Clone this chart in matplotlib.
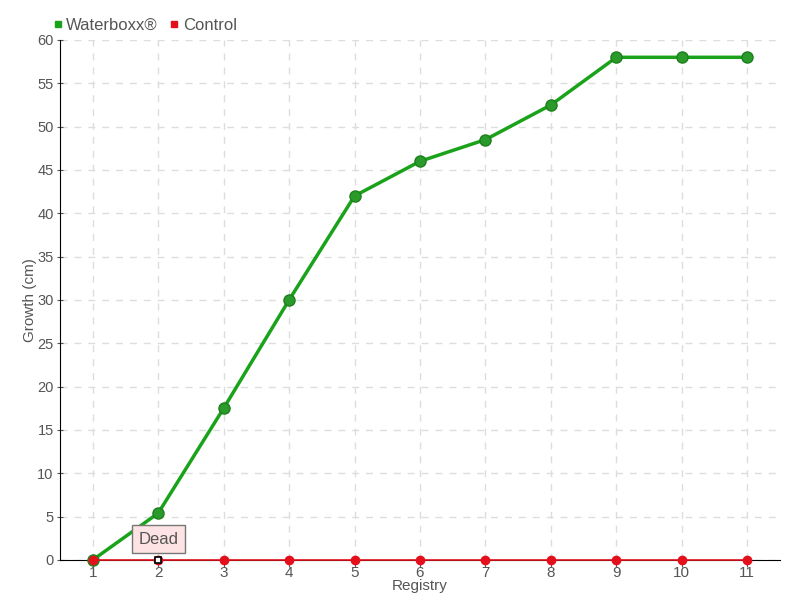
import matplotlib
matplotlib.use("Agg")
import matplotlib.pyplot as plt
from matplotlib.lines import Line2D

registry = [1, 2, 3, 4, 5, 6, 7, 8, 9, 10, 11]
waterboxx = [0, 5.4, 17.5, 30, 42, 46, 48.5, 52.5, 58, 58, 58]
control = [0, 0, 0, 0, 0, 0, 0, 0, 0, 0, 0]
yticks = list(range(0, 61, 5))

plt.rcParams['font.family'] = ['Liberation Sans', 'DejaVu Sans']

fig = plt.figure(figsize=(8, 6), dpi=100)
ax = fig.add_axes([0.075, 0.0667, 0.9, 0.8667])

green = '#1aa31a'
red = '#e3101c'

ax.plot(registry, waterboxx, color=green, lw=2.5, marker='o', ms=8,
        mfc='#2a9a2a', mec='#1f7f1f', mew=1, zorder=3, clip_on=False)
ax.plot(registry, control, color=red, lw=1.2, marker='o', ms=6,
        mfc=red, mec=red, zorder=4, clip_on=False)

ax.set_xlim(0.5, 11.5)
ax.set_ylim(0, 60)
ax.set_xticks(registry)
ax.set_yticks(yticks)
ax.grid(True, color='#dddddd', ls=(0, (5, 5)), lw=1)
ax.set_axisbelow(True)
for s in ['top', 'right']:
    ax.spines[s].set_visible(False)
ax.spines['left'].set_color('black')
ax.spines['bottom'].set_color('black')
ax.tick_params(axis='y', direction='inout', length=5, colors='#555555', labelsize=10.5, pad=2)
ax.tick_params(axis='x', direction='out', length=5, colors='#555555', labelsize=11, pad=-1)
for t in ax.get_yticklines() + ax.get_xticklines():
    t.set_color('black')

ax.set_xlabel('Registry', color='#555555', fontsize=11)
ax.xaxis.set_label_coords(0.5, -0.036)
ax.set_ylabel('Growth (cm)', color='#555555', fontsize=11, va='center')
ax.yaxis.set_label_coords(-0.042, 0.5)

# tooltip
ax.plot([2], [0], marker='s', ms=5, mfc='white', mec='black', mew=1.2, zorder=6, clip_on=False)
ax.annotate('Dead', xy=(2, 0), xytext=(2, 2.4), ha='center', va='center',
            fontsize=12, color='#555555', zorder=7,
            bbox=dict(boxstyle='square,pad=0.4', fc='#fde3e3', ec='#777777', lw=1))

handles = [Line2D([], [], ls='none', marker='s', ms=5, color=green),
           Line2D([], [], ls='none', marker='s', ms=5, color=red)]
fig.legend(handles, ['Waterboxx®', 'Control'], loc='upper left',
           bbox_to_anchor=(0.045, 0.995), ncol=2, frameon=False,
           handletextpad=0.1, columnspacing=0.6, fontsize=12,
           labelcolor='#555555', handlelength=0.8)

fig.savefig('out.png', dpi=100)
